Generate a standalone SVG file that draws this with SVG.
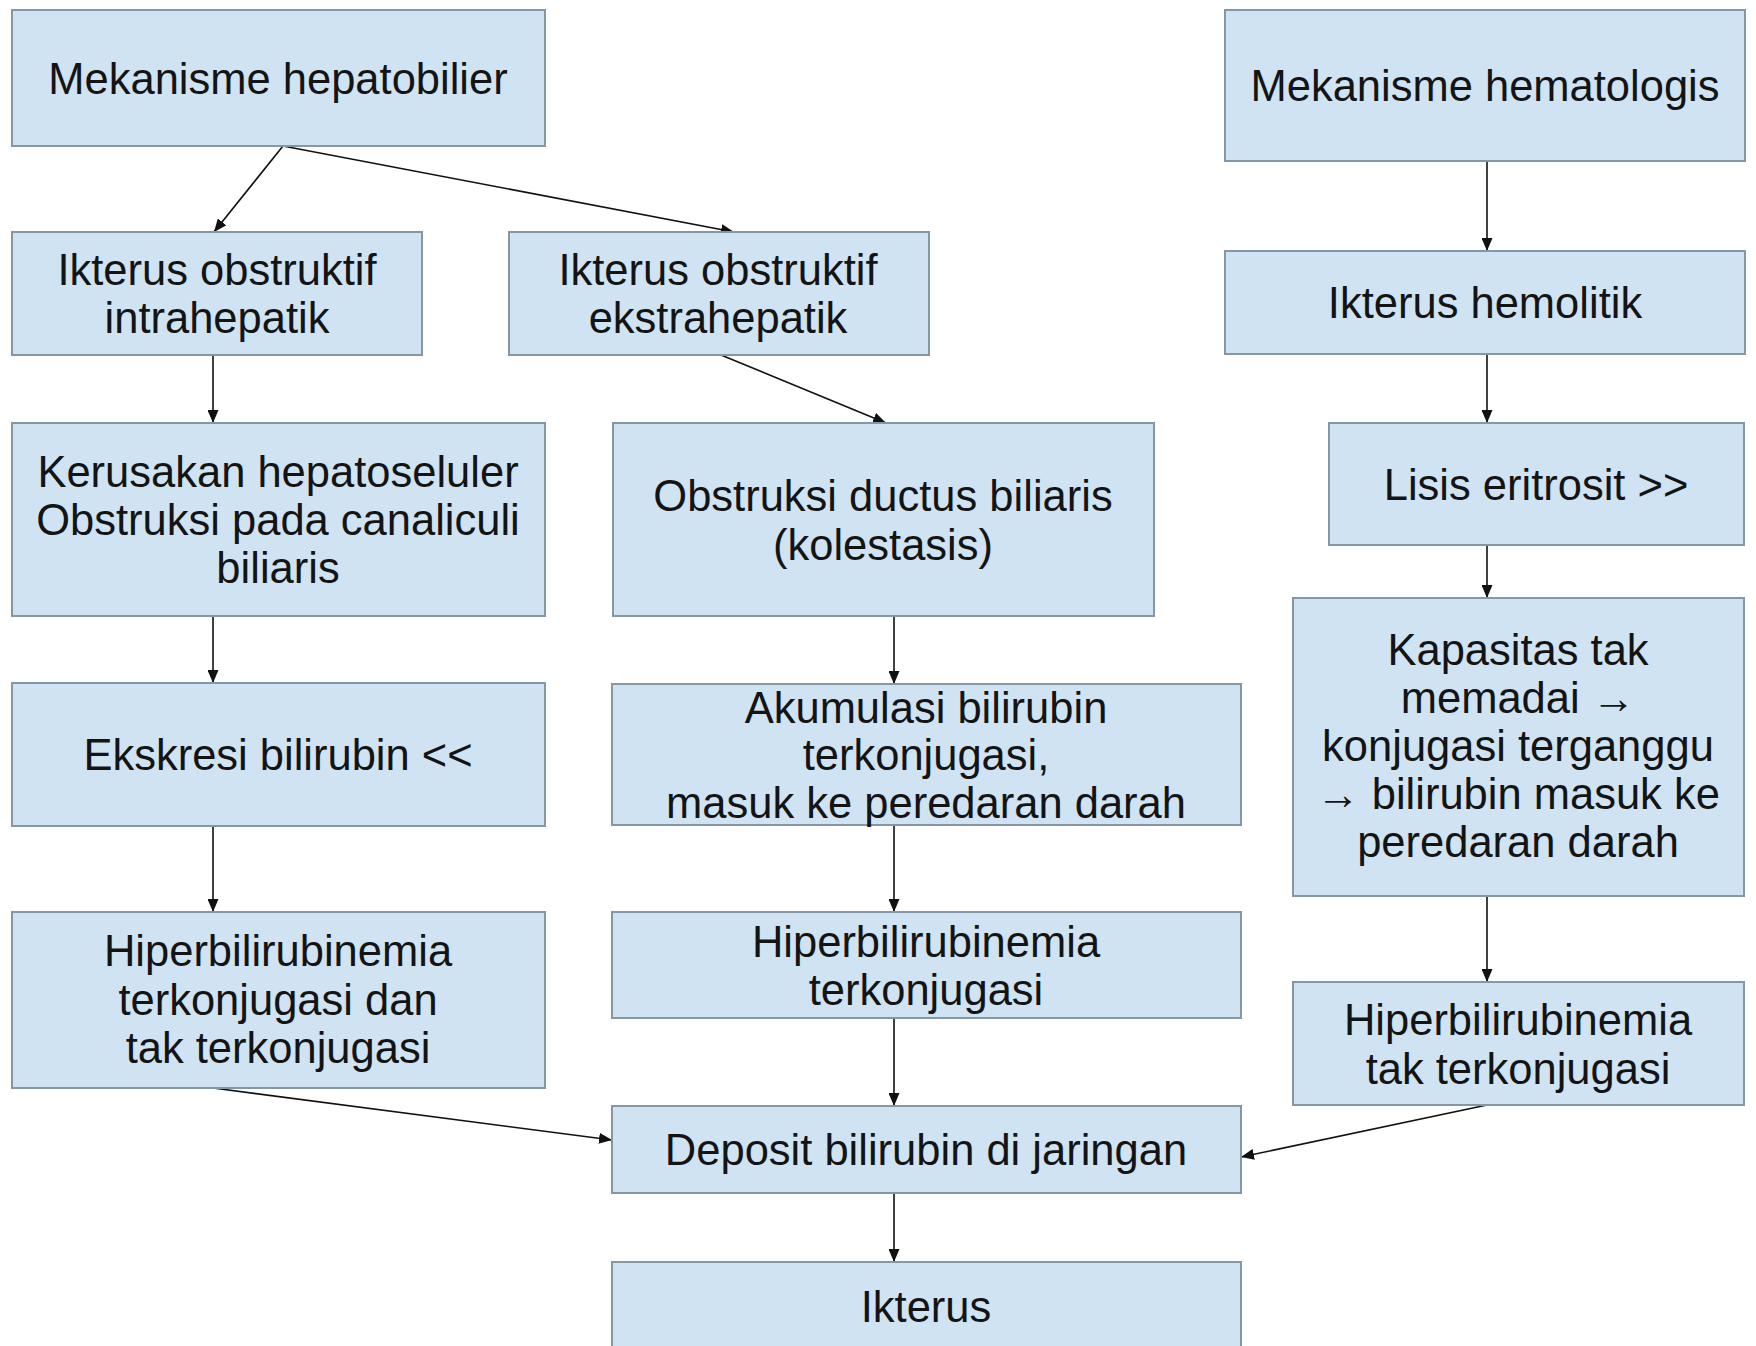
<svg xmlns="http://www.w3.org/2000/svg" width="1756" height="1346" viewBox="0 0 1756 1346">
<defs>
<style>
.box{fill:#cfe3f3;stroke:#8596a5;stroke-width:2}
.t{font-family:"Liberation Sans",Arial,sans-serif;font-size:43.5px;fill:#141414;text-anchor:middle}
.c{fill:none;stroke:#111;stroke-width:1.6}
</style>
<marker id="ah" markerUnits="userSpaceOnUse" markerWidth="13" markerHeight="11" refX="13" refY="5.5" orient="auto">
<path d="M0,0 L13,5.5 L0,11 z" fill="#111"/>
</marker>
</defs>
<rect width="1756" height="1346" fill="#ffffff"/>

<g id="connectors">
<line class="c" x1="283" y1="146" x2="214" y2="232" marker-end="url(#ah)"/>
<line class="c" x1="283" y1="146" x2="734" y2="232" marker-end="url(#ah)"/>
<line class="c" x1="213" y1="355" x2="213" y2="423" marker-end="url(#ah)"/>
<line class="c" x1="721" y1="355" x2="886" y2="423" marker-end="url(#ah)"/>
<line class="c" x1="213" y1="616" x2="213" y2="683" marker-end="url(#ah)"/>
<line class="c" x1="213" y1="826" x2="213" y2="912" marker-end="url(#ah)"/>
<line class="c" x1="213" y1="1088" x2="612" y2="1140" marker-end="url(#ah)"/>
<line class="c" x1="894" y1="616" x2="894" y2="684" marker-end="url(#ah)"/>
<line class="c" x1="894" y1="825" x2="894" y2="912" marker-end="url(#ah)"/>
<line class="c" x1="894" y1="1018" x2="894" y2="1106" marker-end="url(#ah)"/>
<line class="c" x1="894" y1="1193" x2="894" y2="1262" marker-end="url(#ah)"/>
<line class="c" x1="1487" y1="161" x2="1487" y2="251" marker-end="url(#ah)"/>
<line class="c" x1="1487" y1="354" x2="1487" y2="423" marker-end="url(#ah)"/>
<line class="c" x1="1487" y1="545" x2="1487" y2="598" marker-end="url(#ah)"/>
<line class="c" x1="1487" y1="896" x2="1487" y2="982" marker-end="url(#ah)"/>
<line class="c" x1="1487" y1="1105" x2="1241" y2="1157" marker-end="url(#ah)"/>
</g>

<g id="n-hepatobilier">
<rect class="box" x="12" y="10" width="533" height="136"/>
<text class="t" x="278" y="94">Mekanisme hepatobilier</text>
</g>
<g id="n-intrahepatik">
<rect class="box" x="12" y="232" width="410" height="123"/>
<text class="t" x="217" y="285">Ikterus obstruktif</text>
<text class="t" x="217" y="333">intrahepatik</text>
</g>
<g id="n-ekstrahepatik">
<rect class="box" x="509" y="232" width="420" height="123"/>
<text class="t" x="718" y="285">Ikterus obstruktif</text>
<text class="t" x="718" y="333">ekstrahepatik</text>
</g>
<g id="n-kerusakan">
<rect class="box" x="12" y="423" width="533" height="193"/>
<text class="t" x="278" y="487">Kerusakan hepatoseluler</text>
<text class="t" x="278" y="535">Obstruksi pada canaliculi</text>
<text class="t" x="278" y="583">biliaris</text>
</g>
<g id="n-obstruksi">
<rect class="box" x="613" y="423" width="541" height="193"/>
<text class="t" x="883" y="511">Obstruksi ductus biliaris</text>
<text class="t" x="883" y="560">(kolestasis)</text>
</g>
<g id="n-ekskresi">
<rect class="box" x="12" y="683" width="533" height="143"/>
<text class="t" x="278" y="770">Ekskresi bilirubin &lt;&lt;</text>
</g>
<g id="n-akumulasi">
<rect class="box" x="612" y="684" width="629" height="141"/>
<text class="t" x="926" y="723">Akumulasi bilirubin</text>
<text class="t" x="926" y="770">terkonjugasi,</text>
<text class="t" x="926" y="818">masuk ke peredaran darah</text>
</g>
<g id="n-hiper-campuran">
<rect class="box" x="12" y="912" width="533" height="176"/>
<text class="t" x="278" y="966">Hiperbilirubinemia</text>
<text class="t" x="278" y="1015">terkonjugasi dan</text>
<text class="t" x="278" y="1063">tak terkonjugasi</text>
</g>
<g id="n-hiper-terkonjugasi">
<rect class="box" x="612" y="912" width="629" height="106"/>
<text class="t" x="926" y="957">Hiperbilirubinemia</text>
<text class="t" x="926" y="1005">terkonjugasi</text>
</g>
<g id="n-deposit">
<rect class="box" x="612" y="1106" width="629" height="87"/>
<text class="t" x="926" y="1165">Deposit bilirubin di jaringan</text>
</g>
<g id="n-ikterus">
<rect class="box" x="612" y="1262" width="629" height="100"/>
<text class="t" x="926" y="1322">Ikterus</text>
</g>
<g id="n-hematologis">
<rect class="box" x="1225" y="10" width="520" height="151"/>
<text class="t" x="1485" y="101">Mekanisme hematologis</text>
</g>
<g id="n-hemolitik">
<rect class="box" x="1225" y="251" width="520" height="103"/>
<text class="t" x="1485" y="318">Ikterus hemolitik</text>
</g>
<g id="n-lisis">
<rect class="box" x="1329" y="423" width="415" height="122"/>
<text class="t" x="1536" y="500">Lisis eritrosit &gt;&gt;</text>
</g>
<g id="n-kapasitas">
<rect class="box" x="1293" y="598" width="451" height="298"/>
<text class="t" x="1518" y="665">Kapasitas tak</text>
<text class="t" x="1518" y="713">memadai →</text>
<text class="t" x="1518" y="761">konjugasi terganggu</text>
<text class="t" x="1518" y="809">→ bilirubin masuk ke</text>
<text class="t" x="1518" y="857">peredaran darah</text>
</g>
<g id="n-hiper-tak">
<rect class="box" x="1293" y="982" width="451" height="123"/>
<text class="t" x="1518" y="1035">Hiperbilirubinemia</text>
<text class="t" x="1518" y="1084">tak terkonjugasi</text>
</g>
</svg>
